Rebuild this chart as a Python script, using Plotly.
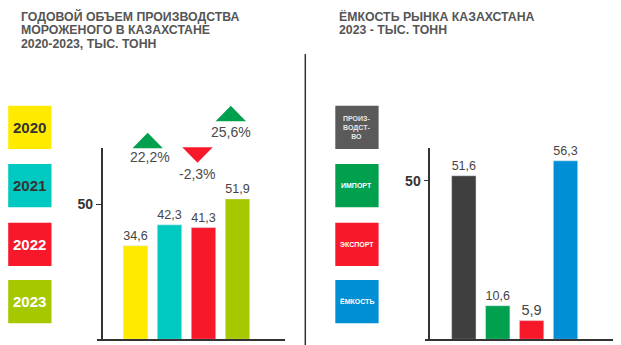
import plotly.graph_objects as go

# ---- data -------------------------------------------------------------
years = ["2020", "2021", "2022", "2023"]
production = [34.6, 42.3, 41.3, 51.9]
growth_pct = [22.2, -2.3, 25.6]
year_colors = ["#FFEA00", "#00C9C1", "#F7182A", "#A6C800"]
year_text_colors = ["#333333", "#333333", "#FFFFFF", "#FFFFFF"]

market_items = ["ПРОИЗ-<br>ВОДСТ-<br>ВО", "ИМПОРТ", "ЭКСПОРТ", "ЁМКОСТЬ"]
market_values = [51.6, 10.6, 5.9, 56.3]
market_bar_colors = ["#3F3F3F", "#00A04E", "#F7182A", "#008FD5"]
market_box_colors = ["#5A5A5A", "#00A04E", "#F7182A", "#008FD5"]
market_text_colors = ["#E6E6E6", "#FFFFFF", "#FFFFFF", "#FFFFFF"]

left_title = ["ГОДОВОЙ ОБЪЕМ ПРОИЗВОДСТВА", "МОРОЖЕНОГО В КАЗАХСТАНЕ", "2020-2023, ТЫС. ТОНН"]
right_title = ["ЁМКОСТЬ РЫНКА КАЗАХСТАНА", "2023 - ТЫС. ТОНН"]

# ---- layout helpers (pixel -> paper) ----------------------------------
W, H = 621, 345
FONT = "Liberation Sans, Arial, sans-serif"


def fx(px):
    return px / W


def fy(py):
    return 1 - py / H


AXIS_COLOR = "#333333"
y_dom = [fy(339.3), fy(148.3)]

fig = go.Figure()

fig.add_trace(go.Bar(
    x=years, y=production, marker_color=year_colors, width=0.72,
    texttemplate="%{y:.1f}", textposition="outside", cliponaxis=False,
    textfont=dict(size=14.5, color="#444444", family=FONT),
    xaxis="x", yaxis="y", showlegend=False,
))
fig.add_trace(go.Bar(
    x=["Производство", "Импорт", "Экспорт", "Ёмкость"], y=market_values,
    marker_color=market_bar_colors, width=0.72,
    texttemplate="%{y:.1f}", textposition="outside", cliponaxis=False,
    textfont=dict(size=14.5, color="#444444", family=FONT),
    xaxis="x2", yaxis="y2", showlegend=False,
))

axis_common = dict(showgrid=False, zeroline=False, fixedrange=True)
fig.update_layout(
    width=W, height=H, margin=dict(l=0, r=0, t=0, b=0),
    paper_bgcolor="white", plot_bgcolor="rgba(0,0,0,0)",
    separators=", ", font=dict(family=FONT),
    xaxis=dict(domain=[fx(96.7), fx(285)], type="category", range=[-1.141, 4.397],
               showline=True, linecolor=AXIS_COLOR, linewidth=1.6,
               showticklabels=False, ticks="", anchor="y", **axis_common),
    yaxis=dict(domain=y_dom, range=[0, 70.6], anchor="free", position=fx(101.7),
               showline=True, linecolor=AXIS_COLOR, linewidth=1.6,
               tickvals=[50], ticktext=["50"], ticks="outside", ticklen=5,
               tickcolor=AXIS_COLOR, tickwidth=1.3,
               tickfont=dict(size=14, color="#333333", family=FONT, weight="bold"),
               **axis_common),
    xaxis2=dict(domain=[fx(425), fx(613.3)], type="category", range=[-1.145, 4.41],
                showline=True, linecolor=AXIS_COLOR, linewidth=1.6,
                showticklabels=False, ticks="", anchor="y2", **axis_common),
    yaxis2=dict(domain=y_dom, range=[0, 60.25], anchor="free", position=fx(429.3),
                showline=True, linecolor=AXIS_COLOR, linewidth=1.6,
                tickvals=[50], ticktext=["50"], ticks="outside", ticklen=5,
                tickcolor=AXIS_COLOR, tickwidth=1.3,
                tickfont=dict(size=14, color="#333333", family=FONT, weight="bold"),
                **axis_common),
)

shapes = []
annotations = []

# divider between the two panels
shapes.append(dict(type="line", xref="paper", yref="paper",
                   x0=fx(305.3), x1=fx(305.3), y0=fy(54), y1=fy(345),
                   line=dict(color=AXIS_COLOR, width=1.5)))

# titles
for i, line in enumerate(left_title):
    annotations.append(dict(text=line, xref="paper", yref="paper",
                            x=fx(18.5), y=fy(16.2 + 13.8 * i), xanchor="left", yanchor="middle",
                            showarrow=False,
                            font=dict(size=12.3, color="#555555", family=FONT, weight="bold")))
for i, line in enumerate(right_title):
    annotations.append(dict(text=line, xref="paper", yref="paper",
                            x=fx(336.5), y=fy(16.2 + 13.8 * i), xanchor="left", yanchor="middle",
                            showarrow=False,
                            font=dict(size=12.3, color="#555555", family=FONT, weight="bold")))

# colour keys
box_tops = [105.7, 164.0, 222.7, 280.0]
BOX = 43.3
for top, label, col, tcol in zip(box_tops, years, year_colors, year_text_colors):
    shapes.append(dict(type="rect", xref="paper", yref="paper",
                       x0=fx(8.2), x1=fx(8.2 + BOX), y0=fy(top + BOX), y1=fy(top),
                       fillcolor=col, line=dict(width=0)))
    annotations.append(dict(text=label, xref="paper", yref="paper",
                            x=fx(8.2 + BOX / 2), y=fy(top + BOX / 2), showarrow=False,
                            xanchor="center", yanchor="middle",
                            font=dict(size=15, color=tcol, family=FONT, weight="bold")))
for top, label, col, tcol in zip(box_tops, market_items, market_box_colors, market_text_colors):
    shapes.append(dict(type="rect", xref="paper", yref="paper",
                       x0=fx(335.3), x1=fx(335.3 + BOX), y0=fy(top + BOX), y1=fy(top),
                       fillcolor=col, line=dict(width=0)))
    annotations.append(dict(text=label, xref="paper", yref="paper",
                            x=fx(335.3 + BOX / 2), y=fy(top + BOX / 2), showarrow=False,
                            xanchor="center", yanchor="middle",
                            font=dict(size=7, color=tcol, family=FONT, weight="bold")))

# year-over-year change markers
arrow_centers = [(147.7, 140.5), (197.5, 155.0), (230.8, 113.5)]
label_centers = [(150.0, 157.3), (197.3, 174.0), (230.7, 132.3)]
AW, AH = 15.2, 7.8
for pct, (cx, cy), (lx, ly) in zip(growth_pct, arrow_centers, label_centers):
    if pct >= 0:
        pts = [(cx - AW, cy + AH), (cx + AW, cy + AH), (cx, cy - AH)]
        col = "#00A04E"
    else:
        pts = [(cx - AW, cy - AH), (cx + AW, cy - AH), (cx, cy + AH)]
        col = "#F7182A"
    path = "M " + " L ".join(f"{fx(px):.5f},{fy(py):.5f}" for px, py in pts) + " Z"
    shapes.append(dict(type="path", xref="paper", yref="paper", path=path,
                       fillcolor=col, line=dict(width=0)))
    annotations.append(dict(text=f"{pct:.1f}%".replace(".", ","), xref="paper", yref="paper",
                            x=fx(lx), y=fy(ly), showarrow=False,
                            xanchor="center", yanchor="middle",
                            font=dict(size=14, color="#4A4A4A", family=FONT)))

fig.update_layout(shapes=shapes, annotations=annotations)
fig.write_html("out.html")
